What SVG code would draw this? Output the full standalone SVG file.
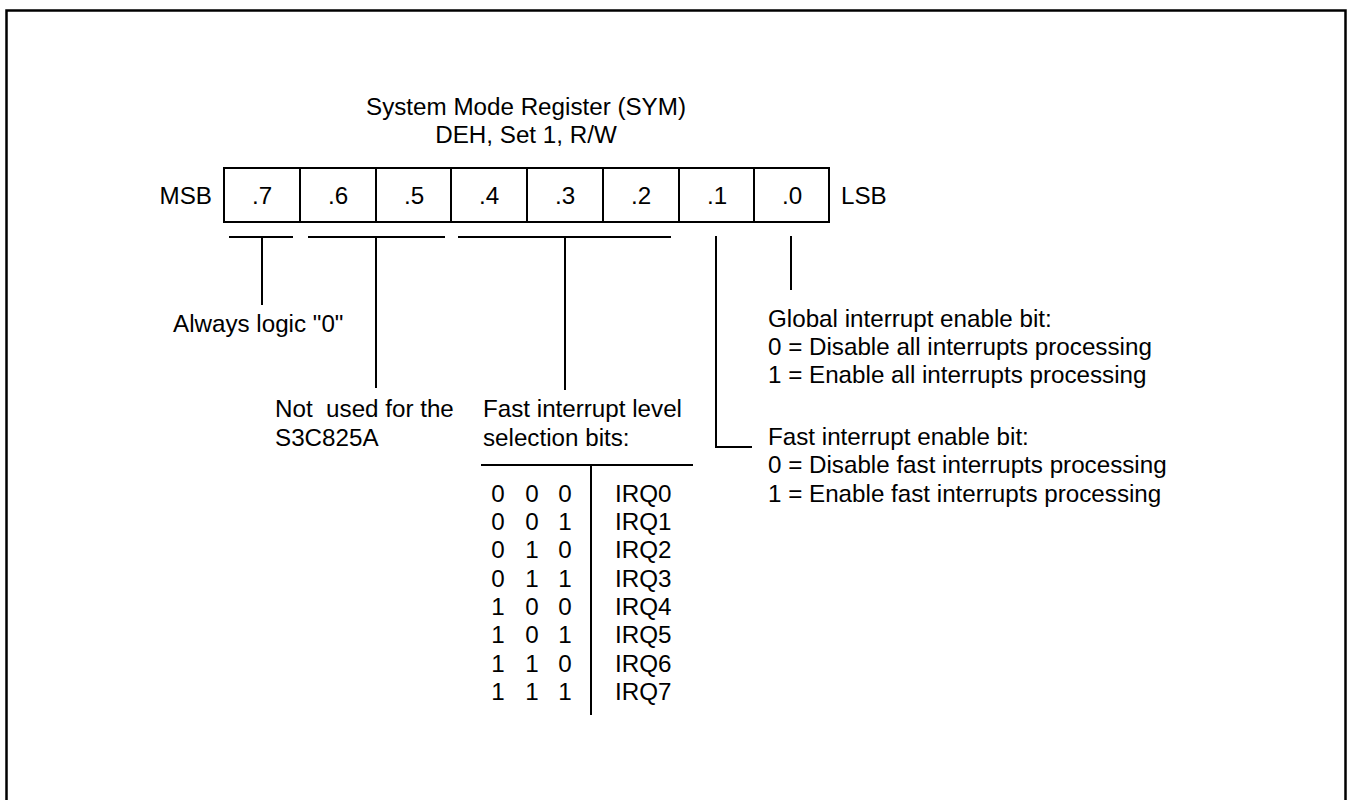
<svg xmlns="http://www.w3.org/2000/svg" width="1347" height="800" viewBox="0 0 1347 800">
<style>
text{font-family:"Liberation Sans",Arial,sans-serif;font-size:24.2px;fill:#000}
.m{text-anchor:middle}
.e{text-anchor:end}
.ln{stroke:#000;stroke-width:2;fill:none}
</style>
<rect width="1347" height="800" fill="#fff"/>
<path d="M6.5,801 V10.5 H1345.5 V801" fill="none" stroke="#000" stroke-width="2.5"/>
<g id="title">
<text class="m" x="526" y="115">System Mode Register (SYM)</text>
<text class="m" x="526" y="143">DEH, Set 1, R/W</text>
</g>
<g id="register">
<text class="e" x="212" y="204">MSB</text>
<text x="841" y="204">LSB</text>
<rect class="ln" x="224" y="168" width="605" height="54"/>
<path class="ln" d="M300,168V222M376,168V222M451,168V222M527,168V222M603,168V222M679,168V222M754,168V222"/>
<text class="m" x="262" y="204">.7</text>
<text class="m" x="338" y="204">.6</text>
<text class="m" x="414" y="204">.5</text>
<text class="m" x="489" y="204">.4</text>
<text class="m" x="565" y="204">.3</text>
<text class="m" x="641" y="204">.2</text>
<text class="m" x="717" y="204">.1</text>
<text class="m" x="792" y="204">.0</text>
</g>
<g id="connectors">
<path class="ln" d="M229,237H293M262,237V305"/>
<path class="ln" d="M308,237H445M376,237V388"/>
<path class="ln" d="M458,237H671M565,237V390"/>
<path class="ln" d="M716,236V447H752"/>
<path class="ln" d="M791,236V290"/>
</g>
<g id="bit7">
<text x="173" y="332">Always logic "0"</text>
</g>
<g id="bit65">
<text x="275" y="417" style="white-space:pre">Not  used for the</text>
<text x="275" y="446">S3C825A</text>
</g>
<g id="bit42">
<text x="483" y="417">Fast interrupt level</text>
<text x="483" y="446">selection bits:</text>
<path class="ln" d="M481,465H693M591,465V715"/>
<g>
<text class="m" x="498" y="502">0</text><text class="m" x="532" y="502">0</text><text class="m" x="565" y="502">0</text><text x="615" y="502">IRQ0</text>
<text class="m" x="498" y="530">0</text><text class="m" x="532" y="530">0</text><text class="m" x="565" y="530">1</text><text x="615" y="530">IRQ1</text>
<text class="m" x="498" y="558">0</text><text class="m" x="532" y="558">1</text><text class="m" x="565" y="558">0</text><text x="615" y="558">IRQ2</text>
<text class="m" x="498" y="587">0</text><text class="m" x="532" y="587">1</text><text class="m" x="565" y="587">1</text><text x="615" y="587">IRQ3</text>
<text class="m" x="498" y="615">1</text><text class="m" x="532" y="615">0</text><text class="m" x="565" y="615">0</text><text x="615" y="615">IRQ4</text>
<text class="m" x="498" y="643">1</text><text class="m" x="532" y="643">0</text><text class="m" x="565" y="643">1</text><text x="615" y="643">IRQ5</text>
<text class="m" x="498" y="672">1</text><text class="m" x="532" y="672">1</text><text class="m" x="565" y="672">0</text><text x="615" y="672">IRQ6</text>
<text class="m" x="498" y="700">1</text><text class="m" x="532" y="700">1</text><text class="m" x="565" y="700">1</text><text x="615" y="700">IRQ7</text>
</g>
</g>
<g id="bit0">
<text x="768" y="327">Global interrupt enable bit:</text>
<text x="768" y="355">0 = Disable all interrupts processing</text>
<text x="768" y="383">1 = Enable all interrupts processing</text>
</g>
<g id="bit1">
<text x="768" y="445">Fast interrupt enable bit:</text>
<text x="768" y="473">0 = Disable fast interrupts processing</text>
<text x="768" y="502">1 = Enable fast interrupts processing</text>
</g>
</svg>
